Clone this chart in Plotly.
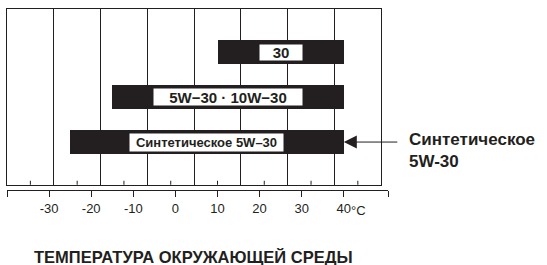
import plotly.graph_objects as go

# ---- data ----
oil_grades = ["30", "5W−30 · 10W−30", "Синтетическое 5W–30"]
temp_min_c = [10, -15, -25]
temp_max_c = [40, 40, 40]
celsius_ticks = [-40, -30, -20, -10, 0, 10, 20, 30, 40]
celsius_tick_text = ["", "-30", "-20", "-10", "0", "10", "20", "30", "40"]
fahrenheit_grid = [-40, -20, 0, 20, 40, 60, 80, 100, 120]
fahrenheit_minor = [-30, -10, 10, 30, 50, 70, 90, 110]
callout_text = "Синтетическое<br>5W-30"
axis_title = "ТЕМПЕРАТУРА ОКРУЖАЮЩЕЙ СРЕДЫ"
unit_text = "°C"

# ---- styling ----
INK = "#231f20"
FONT = "Liberation Sans, Arial, sans-serif"
label_box_w = [42, 148, 153]
label_box_h = [15, 16, 17]
label_font_size = [15, 15, 13]

c_min, c_max = -40, 50.5


def f_to_c(f):
    return (f - 32) / 1.8


f_dom_end = (f_to_c(max(fahrenheit_grid)) - c_min) / (c_max - c_min)
cat_pos = list(range(len(oil_grades)))

fig = go.Figure()

# invisible trace to instantiate the Fahrenheit grid axis (x / y)
fig.add_trace(go.Scatter(
    x=[fahrenheit_grid[0], fahrenheit_grid[-1]], y=[oil_grades[0], oil_grades[0]],
    xaxis="x", yaxis="y", mode="markers", marker=dict(opacity=0),
    hoverinfo="skip", showlegend=False))

# bars (Celsius axis x2 / y)
fig.add_trace(go.Bar(
    y=oil_grades,
    x=[hi - lo for lo, hi in zip(temp_min_c, temp_max_c)],
    base=temp_min_c,
    orientation="h",
    width=0.525,
    marker=dict(color=INK, line=dict(width=0)),
    xaxis="x2", yaxis="y",
    hoverinfo="skip", showlegend=False))

# minor ticks (every other 10 °F) rising from the bottom of the box
shapes = []
for f in fahrenheit_minor:
    shapes.append(dict(
        type="line", xref="x", x0=f, x1=f,
        yref="y domain", ysizemode="pixel", yanchor=0, y0=0, y1=4,
        line=dict(color=INK, width=1)))

annotations = []
for i, g in enumerate(oil_grades):
    annotations.append(dict(
        x=(temp_min_c[i] + temp_max_c[i]) / 2, y=cat_pos[i], xref="x2", yref="y",
        text=f"<b>{g}</b>", showarrow=False, bgcolor="white",
        width=label_box_w[i], height=label_box_h[i], borderpad=0,
        font=dict(family=FONT, size=label_font_size[i], color=INK),
        xanchor="center", yanchor="middle"))

# arrow to synthetic bar end
annotations.append(dict(
    x=temp_max_c[2], y=cat_pos[2], xref="x2", yref="y",
    text="", showarrow=True, ax=55, ay=0, axref="pixel", ayref="pixel",
    arrowhead=2, arrowsize=2.6, arrowwidth=1, arrowcolor=INK,
    standoff=0))
# callout text
annotations.append(dict(
    x=temp_max_c[2], y=cat_pos[2], xref="x2", yref="y",
    xshift=63, yshift=-8, text=f"<b>{callout_text}</b>", showarrow=False,
    xanchor="left", yanchor="middle", align="left",
    font=dict(family=FONT, size=17, color=INK)))
# unit after last tick label
annotations.append(dict(
    x=celsius_ticks[-1], y=0, xref="x2", yref="paper",
    xshift=5, yshift=-20, text=unit_text, showarrow=False,
    xanchor="left", yanchor="middle",
    font=dict(family=FONT, size=13, color=INK)))
# axis title
annotations.append(dict(
    x=0.489, y=0, xref="paper", yref="paper", yshift=-67,
    text=f"<b>{axis_title}</b>", showarrow=False,
    xanchor="center", yanchor="middle",
    font=dict(family=FONT, size=16.5, color=INK)))

fig.update_layout(
    width=547, height=265,
    margin=dict(l=7, r=159, t=9, b=75),
    paper_bgcolor="white", plot_bgcolor="rgba(0,0,0,0)",
    bargap=0, showlegend=False,
    font=dict(family=FONT, color=INK),
    xaxis=dict(
        domain=[0, f_dom_end], range=[fahrenheit_grid[0], fahrenheit_grid[-1]],
        anchor="y", showticklabels=False,
        tickvals=fahrenheit_grid, ticks="",
        showgrid=True, gridcolor=INK, gridwidth=1,
        zeroline=False,
        showline=True, mirror=True, linecolor=INK, linewidth=1),
    xaxis2=dict(
        domain=[0, 1], range=[c_min, c_max],
        anchor="free", position=0,
        tickvals=celsius_ticks + [c_max], ticktext=celsius_tick_text + [""],
        ticks="outside", ticklen=6, tickcolor=INK, tickwidth=1,
        tickfont=dict(family=FONT, size=13, color=INK),
        showgrid=False, zeroline=False,
        showline=True, linecolor=INK, linewidth=1),
    yaxis=dict(
        domain=[0.029, 1], type="category", categoryarray=oil_grades,
        range=[2.95, -0.96], anchor="x",
        showticklabels=False, ticks="", showgrid=False, zeroline=False,
        showline=True, mirror=True, linecolor=INK, linewidth=1),
    shapes=shapes,
    annotations=annotations,
)

fig.write_html("out.html", config={"displayModeBar": False},
               post_script="document.body.style.margin='0';")
